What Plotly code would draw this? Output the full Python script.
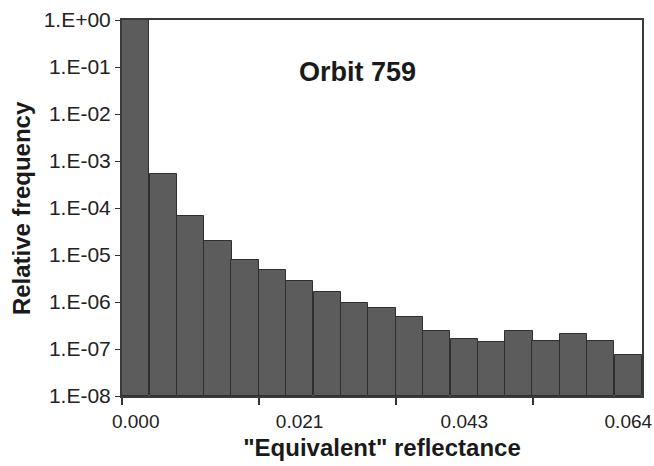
import plotly.graph_objects as go

# "Equivalent" reflectance bin centres
reflectance = [0.0000, 0.0036, 0.0071, 0.0107, 0.0142, 0.0178, 0.0213, 0.0249,
               0.0284, 0.0320, 0.0356, 0.0391, 0.0427, 0.0462, 0.0498, 0.0533,
               0.0569, 0.0604, 0.0640]
# relative frequency per bin
rel_freq = [1.0, 5.4e-4, 6.6e-5, 2.0e-5, 7.9e-6, 4.9e-6, 2.8e-6, 1.6e-6,
            9.6e-7, 7.5e-7, 4.8e-7, 2.3e-7, 1.56e-7, 1.3e-7, 2.3e-7, 1.35e-7,
            2.0e-7, 1.35e-7, 6.5e-8]

x_tick_idx = [0, 6, 12, 18]
x_tick_text = ["0.000", "0.021", "0.043", "0.064"]
y_tick_vals = [1e0, 1e-1, 1e-2, 1e-3, 1e-4, 1e-5, 1e-6, 1e-7, 1e-8]
y_tick_text = ["1.E+00", "1.E-01", "1.E-02", "1.E-03", "1.E-04",
               "1.E-05", "1.E-06", "1.E-07", "1.E-08"]

bin_w = (reflectance[-1] - reflectance[0]) / (len(reflectance) - 1)
FONT = "Liberation Sans, Arial, sans-serif"

fig = go.Figure(go.Bar(
    x=reflectance, y=rel_freq, width=bin_w,
    marker=dict(color="#5c5c5c", line=dict(color="#2f2f2f", width=1)),
    base=1e-8,
))

fig.update_layout(
    width=654, height=466,
    margin=dict(l=122, r=12, t=20, b=70),
    paper_bgcolor="white", plot_bgcolor="white",
    showlegend=False, bargap=0,
    font=dict(family=FONT, color="#222", size=21),
    annotations=[
        dict(text="<b>Orbit 759</b>", x=0.453, y=0.862, xref="paper", yref="paper",
             xanchor="center", yanchor="middle",
             showarrow=False, font=dict(size=27, family=FONT, color="#1a1a1a")),
        dict(text="<b>Relative frequency</b>", x=-0.194, y=0.5, xref="paper", yref="paper",
             xanchor="center", yanchor="middle", textangle=-90,
             showarrow=False, font=dict(size=24, family=FONT, color="#1a1a1a")),
    ],
)
fig.update_xaxes(
    automargin=False, ticklabeloverflow="allow",
    tickfont=dict(size=19),
    range=[reflectance[0] - bin_w / 2, reflectance[-1] + bin_w / 2],
    tickmode="array", tickvals=[reflectance[i] for i in x_tick_idx], ticktext=x_tick_text,
    ticks="outside", ticklen=7, tickcolor="rgba(0,0,0,0)",
    minor=dict(tickmode="linear", tick0=reflectance[0] - bin_w / 2, dtick=5 * bin_w,
               ticks="outside", ticklen=7, tickcolor="#333", tickwidth=1.5),
    showline=True, linecolor="#3a3a3a", linewidth=2, mirror=True,
    showgrid=False, zeroline=False,
    title=dict(text="<b>\"Equivalent\" reflectance</b>", font=dict(size=24, family=FONT, color="#1a1a1a"), standoff=8),
)
fig.update_yaxes(
    automargin=False,
    type="log", range=[-8, 0],
    tickmode="array", tickvals=y_tick_vals, ticktext=y_tick_text,
    ticks="outside", ticklen=5, tickcolor="#333",
    showline=True, linecolor="#3a3a3a", linewidth=2, mirror=True,
    showgrid=False, zeroline=False,
)

fig.write_html("out.html")
